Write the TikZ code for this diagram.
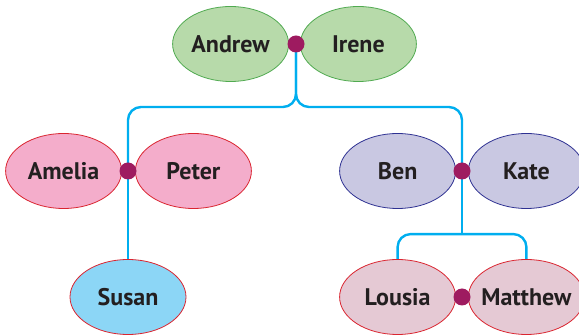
\documentclass[tikz,border=0pt]{standalone}
\usepackage{fontspec}
\setmainfont{PT Sans}
\usepackage{tikz}
\usetikzlibrary{positioning,shapes.geometric,backgrounds}

\definecolor{ink}{RGB}{35,31,32}
\definecolor{tieblue}{RGB}{0,174,239}
\definecolor{knotred}{RGB}{158,27,96}
\definecolor{gpfill}{RGB}{183,218,170}
\definecolor{gpline}{RGB}{80,170,80}
\definecolor{pinkfill}{RGB}{244,173,203}
\definecolor{redline}{RGB}{218,37,48}
\definecolor{lavfill}{RGB}{201,200,226}
\definecolor{lavline}{RGB}{46,49,146}
\definecolor{skyfill}{RGB}{140,214,246}
\definecolor{rosefill}{RGB}{229,201,212}

\begin{document}
\begin{tikzpicture}[x=1pt, y=-1pt]
    \tikzstyle{person}=[ellipse, minimum width=116pt, minimum height=75pt, inner xsep=-30pt, line width=0.8pt, text=ink, font=\fontsize{24}{26}\selectfont\bfseries]
    \tikzstyle{elder}=[person, draw=gpline, fill=gpfill]
    \tikzstyle{pinkone}=[person, draw=redline, fill=pinkfill]
    \tikzstyle{lavone}=[person, draw=lavline, fill=lavfill]
    \tikzstyle{skyone}=[person, draw=redline, fill=skyfill]
    \tikzstyle{roseone}=[person, draw=redline, fill=rosefill]
    \tikzstyle{knot}=[circle, fill=knotred, inner sep=0pt, minimum size=17pt]
    \tikzstyle{tie}=[line width=2.4pt, draw=tieblue, rounded corners=13pt]

      \useasboundingbox (0,0) rectangle (579,336);

      % marriage points
      \coordinate (m1) at (296,44);
      \coordinate (m2) at (128,171);
      \coordinate (m3) at (462,171);
      \coordinate (m4) at (462,297);

      \node[elder] (andrew) [left=7pt of m1] {Andrew};
      \node[elder] (irene) [right=4pt of m1] {Irene};
      \node[pinkone] (amelia) [left=6pt of m2] {Amelia};
      \node[pinkone] (peter) [right=7pt of m2] {Peter};
      \node[lavone] (ben) [left=6pt of m3] {Ben};
      \node[lavone] (kate) [right=6pt of m3] {Kate};
      \node[skyone] (susan) at (m2 |- m4) {Susan};
      \node[roseone] (lousia) [left=6pt of m4] {Lousia};
      \node[roseone] (matthew) [right=6pt of m4] {Matthew};

      \node[knot] (k1) at (m1) {};
      \node[knot] (k2) at (m2) {};
      \node[knot] (k3) at (m3) {};
      \node[knot] (k4) at (m4) {};

      \coordinate (rail) at ([yshift=25pt]matthew.north);

      \begin{scope}[on background layer]
        \draw[tie] (k1.center) |- ([yshift=64pt]m2) -- (k2.center);
        \draw[tie] (k1.center) |- ([yshift=64pt]m3) -- (k3.center);
        \draw[tie] (k2.center) -- (susan);
        \draw[tie] (k3.center) -- (m3 |- rail);
        \draw[tie] (lousia) |- (rail) -- (matthew);
      \end{scope}
    \end{tikzpicture}
\end{document}
